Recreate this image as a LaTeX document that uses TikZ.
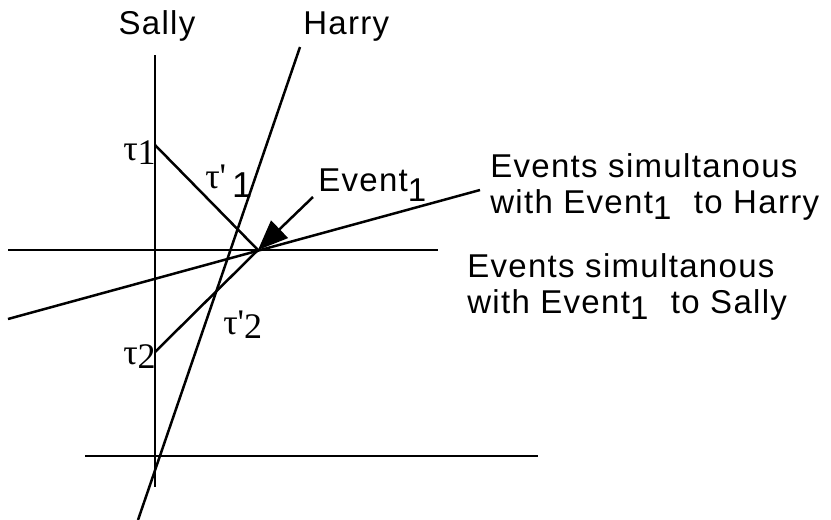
\documentclass[tikz,border=0pt]{standalone}
\usepackage{fontspec}
\setmainfont{Liberation Sans}
\newfontfamily\shsans{Liberation Sans}[LetterSpace=4]
\newfontfamily\shserif{Liberation Serif}
\usetikzlibrary{arrows.meta}
\tikzset{every picture/.style={line width=2.5pt}}
\tikzset{
  shlabel/.style ={inner sep=0pt, font=\fontsize{33}{36}\selectfont\shsans},
  shtau/.style   ={inner sep=0pt, font=\fontsize{36}{40}\selectfont\shserif},
  sharrow/.style ={-{Triangle[length=30pt,width=24pt]}},
}
\newcommand{\subone}{\raisebox{-6pt}{1}\hspace{12pt}}

\begin{document}
\begin{tikzpicture}[x=1pt,y=-1pt]
        \useasboundingbox (0,0) rectangle (831,520);
        % world lines and the event
        \coordinate (sallytop) at (155,55);
        \coordinate (sallybot) at (155,487);
        \coordinate (harrytop) at (300,47);
        \coordinate (harrybot) at (138,520);
        \coordinate (ev) at (258,250);
        \coordinate (nowL) at (8,250);
        \coordinate (nowR) at (438,250);
        \coordinate (lateL) at (85,456);
        \coordinate (lateR) at (538,456);
        \coordinate (simL) at (8,319);
        \coordinate (simR) at (480,190);
        \coordinate (t1) at (155,145);
        \coordinate (t2) at (155,352);
        \coordinate (evtail) at (313,197);
        \draw (sallytop) -- (sallybot);
        \draw (harrytop) -- (harrybot);
        \draw (nowL) -- (nowR);
        \draw (lateL) -- (lateR);
        \draw (simL) -- (simR);
        \draw (t1) -- (ev);
        \draw (t2) -- (ev);
        \draw[sharrow] (evtail) -- (ev);
        % labels
        \node[shlabel, anchor=base] (sally) at (157,34) {Sally};
        \node[shlabel, anchor=base west] (harry) at (302,34) {Harry};
        \node[shlabel, anchor=base west] (evlab) at (317,191) {Event\raisebox{-10pt}{1}};
        \node[shlabel, anchor=north west, align=left] (simH) at (489,152)
            {Events simultanous\\with Event\subone{} to Harry};
        \node[shlabel, anchor=north west, align=left] (simS) at (466,252)
            {Events simultanous\\with Event\subone{} to Sally};
        \node[shtau, anchor=base west] (tau1) at (122,160) {τ\raisebox{-4pt}{1}};
        \node[shtau, anchor=base west] (tau1p) at (204,188) {τ'\,\raisebox{-9pt}{\shsans 1}};
        \node[shtau, anchor=base west] (tau2) at (122,364) {τ\raisebox{-4pt}{2}};
        \node[shtau, anchor=base west] (tau2p) at (222,334) {τ'\raisebox{-4pt}{2}};
    \end{tikzpicture}
\end{document}
